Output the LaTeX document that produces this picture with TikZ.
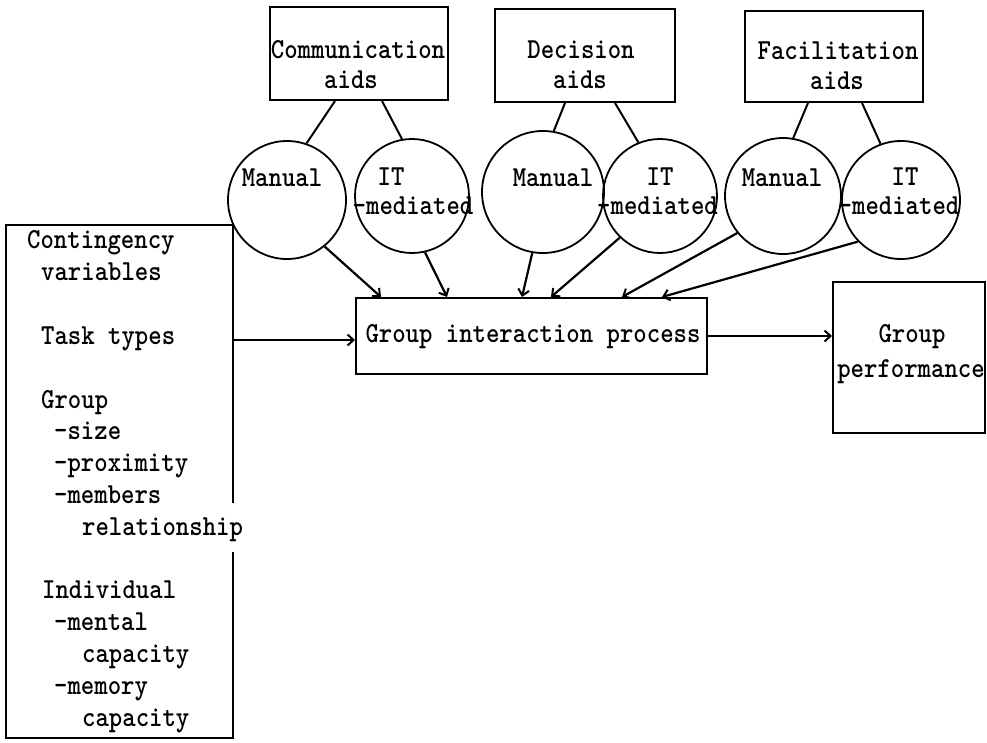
\documentclass[tikz,border=0pt]{standalone}
\usepackage{fontspec}
\newfontfamily\tw{lmmonolt10-bold.otf}[FakeStretch=0.88]
\usetikzlibrary{arrows.meta}
\begin{document}
\begin{tikzpicture}[x=1pt,y=-1pt,
  every node/.style={font=\tw\fontsize{29}{31.8}\selectfont, inner sep=0pt},
  frame/.style={draw, rectangle, line width=2pt},
  bubble/.style={draw, circle, line width=1.8pt},
  txt/.style={anchor=base},
  ltxt/.style={anchor=base west},
  link/.style={line width=2pt},
  flow/.style={line width=2.2pt, -{Straight Barb[length=6pt,width=11pt,line width=2pt]}},
]
\useasboundingbox (0,0) rectangle (987,742);

% top aid boxes
\node[frame, minimum width=178pt, minimum height=93pt] (ca) at (359,53.5) {};
\node[frame, minimum width=180pt, minimum height=93pt] (da) at (585,55.5) {};
\node[frame, minimum width=178pt, minimum height=91pt] (fa) at (834,56.5) {};
\node[txt] (ca1) at (358,58) {Communication};
\node[txt] (ca2) at (351,88) {aids};
\node[txt] (da1) at (581,58) {Decision};
\node[txt] (da2) at (580,88) {aids};
\node[txt] (fa1) at (838,59) {Facilitation};
\node[txt] (fa2) at (837,89) {aids};

% circles
\node[bubble, minimum size=118pt] (cm) at (287,200) {};
\node[bubble, minimum size=114pt] (ci) at (412,196) {};
\node[bubble, minimum size=122pt] (dm) at (543,192) {};
\node[bubble, minimum size=114pt] (di) at (660,196) {};
\node[bubble, minimum size=116pt] (fm) at (783,196) {};
\node[bubble, minimum size=118pt] (fi) at (901,200) {};
\node[txt] (cmt) at (282,186) {Manual};
\node[txt] (dmt) at (553,186) {Manual};
\node[txt] (fmt) at (782,186) {Manual};
\node[txt] (cit1) at (391,185) {IT};
\node[txt] (dit1) at (660,185) {IT};
\node[txt] (fit1) at (905,185) {IT};
\node[txt] (cit2) at (413,214) {-mediated};
\node[txt] (dit2) at (657.5,214) {-mediated};
\node[txt] (fit2) at (899,214) {-mediated};

% box to circle links
\draw[link] ([xshift=-24pt]ca.south) -- (cm.71);
\draw[link] ([xshift=23pt]ca.south) -- (ci.100);
\draw[link] ([xshift=-20pt]da.south) -- (dm.80);
\draw[link] ([xshift=30pt]da.south) -- (di.112);
\draw[link] ([xshift=-26pt]fa.south) -- (fm.80);
\draw[link] ([xshift=28pt]fa.south) -- (fi.110);

% group interaction process
\node[frame, minimum width=351pt, minimum height=76pt] (gip) at (531.5,336) {};
\node[txt] (gipt) at (533,342) {Group interaction process};

% group performance
\node[frame, minimum width=152pt, minimum height=151pt] (gp) at (909,357.5) {};
\node[txt] (gpt1) at (912,342) {Group};
\node[txt] (gpt2) at (911,377) {performance};

% contingency box (right edge broken)
\node[minimum width=227pt, minimum height=513pt] (cv) at (119.5,481.5) {};
\draw[line width=2pt] ([yshift=-278pt]cv.north east) -- (cv.north east) -- (cv.north west)
  -- (cv.south west) -- (cv.south east) -- ([yshift=-327pt]cv.north east);
\node[ltxt] (l1) at (27,248) {Contingency};
\node[ltxt] (l2) at (41,280) {variables};
\node[ltxt] (l3) at (41,344) {Task types};
\node[ltxt] (l4) at (41,408) {Group};
\node[ltxt] (l5) at (54,439) {-size};
\node[ltxt] (l6) at (54,471) {-proximity};
\node[ltxt] (l7) at (54,503) {-members};
\node[ltxt] (l8) at (82,535) {relationship};
\node[ltxt] (l9) at (42,598) {Individual};
\node[ltxt] (l10) at (54,630) {-mental};
\node[ltxt] (l11) at (82,662) {capacity};
\node[ltxt] (l12) at (54,694) {-memory};
\node[ltxt] (l13) at (82,726) {capacity};

% arrows into group interaction process
\draw[flow] ([yshift=-4pt]gip.west -| cv.east) -- ([yshift=-4pt]gip.west);
\draw[flow] (cm.-51) -- ([xshift=26pt]gip.north west);
\draw[flow] (ci.-77) -- ([xshift=92pt]gip.north west);
\draw[flow] (dm.260) -- ([xshift=167pt]gip.north west);
\draw[flow] (di.226) -- ([xshift=196pt]gip.north west);
\draw[flow] (fm.219) -- ([xshift=267pt]gip.north west);
\draw[flow] (fi.224) -- ([xshift=307pt]gip.north west);
\draw[flow] (gip.east) -- (gip.east -| gp.west);
\end{tikzpicture}
\end{document}
